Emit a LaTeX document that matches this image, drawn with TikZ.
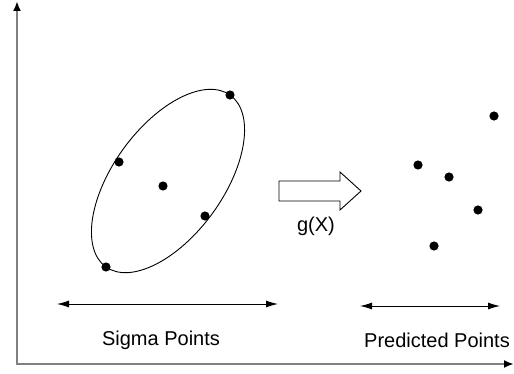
\documentclass[tikz,border=0pt]{standalone}
\usepackage{fontspec}
\setmainfont{Liberation Sans}
\usetikzlibrary{arrows.meta}

\begin{document}
\begin{tikzpicture}[
  x=0.5pt, y=-0.5pt,
  axis/.style={draw=gray, line width=1pt, -{Latex[black, length=5pt, width=4pt]}},
  span/.style={{Latex[length=6pt, width=3.5pt]}-{Latex[length=6pt, width=3.5pt]}, line width=0.45pt},
  dot/.style={circle, fill, inner sep=0pt, minimum size=4.6pt},
  txt/.style={font=\fontsize{10}{12}\selectfont, inner sep=0pt}
]
\useasboundingbox (0,0) rectangle (514,374);

% axes
\coordinate (origin) at (17,364.5);
\coordinate (ytop) at (17,1);
\coordinate (xend) at (514,364);
\draw[axis] (origin) -- (ytop);
\draw[axis] (16.5,364) -- (xend);

% sigma points on the covariance ellipse
\coordinate (ell) at (168,181);
\draw[line width=0.45pt, rotate around={54:(ell)}] (ell) ellipse [x radius=106, y radius=55];
\node[dot] (s0) at (163,186) {};
\node[dot] (s1) at (230,95) {};
\node[dot] (s2) at (119,162) {};
\node[dot] (s3) at (205,216) {};
\node[dot] (s4) at (106,267) {};

% transformation
\draw[line width=0.45pt, fill=white] (279,181) -- (340,181) -- (340,172) -- (361,191)
  -- (340,210) -- (340,201) -- (279,201) -- cycle;
\node[txt] (g) at (316,226) {g(X)};

% predicted points
\node[dot] (p1) at (494,116) {};
\node[dot] (p2) at (418,165) {};
\node[dot] (p3) at (449,177) {};
\node[dot] (p4) at (478,210) {};
\node[dot] (p5) at (434,246) {};

% spans and labels
\coordinate (sl) at (57,304);
\coordinate (sr) at (278,304);
\coordinate (pl) at (360,306);
\coordinate (pr) at (500,306);
\draw[span] (sl) -- (sr);
\draw[span] (pl) -- (pr);
\node[txt] (sigma) at (161,340) {Sigma Points};
\node[txt] (pred) at (437,340) {Predicted Points};

\end{tikzpicture}
\end{document}
